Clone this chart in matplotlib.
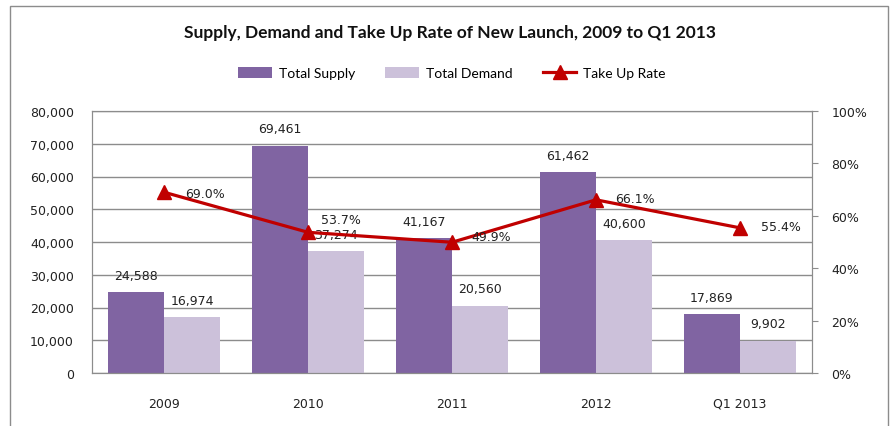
import matplotlib.pyplot as plt
from matplotlib.patches import Rectangle
from matplotlib.ticker import FuncFormatter, PercentFormatter
import numpy as np

categories = ["2009", "2010", "2011", "2012", "Q1 2013"]
total_supply = [24588, 69461, 41167, 61462, 17869]
total_demand = [16974, 37274, 20560, 40600, 9902]
take_up_rate = [69.0, 53.7, 49.9, 66.1, 55.4]

supply_color = "#8064A2"
demand_color = "#CCC1DA"
line_color = "#C00000"
grid_color = "#8C8C8C"

# label offsets (points) for the take up rate labels, as placed in the original
rate_offsets = [(15, -1), (9, 9), (14, 4), (14, 1), (15, 1)]

fig = plt.figure(figsize=(8.91, 4.27), dpi=100)

# outer chart frame
fig.patches.append(Rectangle((10 / 891, -0.1), 878 / 891, 1.1 - 7 / 427,
                             transform=fig.transFigure, fill=False,
                             edgecolor="#8C8C8C", linewidth=1))

ax = fig.add_axes([92 / 891, 53 / 427, 720 / 891, 262 / 427])
x = np.arange(len(categories))
w = 0.39

b1 = ax.bar(x - w / 2, total_supply, w, color=supply_color, label="Total Supply", zorder=2)
b2 = ax.bar(x + w / 2, total_demand, w, color=demand_color, label="Total Demand", zorder=2)

for bars in (b1, b2):
    for rect in bars:
        h = rect.get_height()
        ax.annotate(f"{h:,.0f}", (rect.get_x() + rect.get_width() / 2, h),
                    xytext=(0, 12), textcoords="offset points",
                    ha="center", va="center", fontsize=9, color="#222222")

ax.set_xlim(-0.5, len(categories) - 0.5)
ax.set_ylim(0, 80000)
ax.set_yticks(np.arange(0, 80001, 10000))
ax.yaxis.set_major_formatter(FuncFormatter(lambda v, p: f"{v:,.0f}"))
ax.set_xticks(x)
ax.set_xticklabels(categories)
ax.tick_params(axis="y", length=0, pad=13, labelsize=9, labelcolor="#222222")
ax.tick_params(axis="x", length=0, pad=17, labelsize=9, labelcolor="#222222")
ax.yaxis.grid(True, color=grid_color, linewidth=1, zorder=0)
ax.set_axisbelow(True)
for s in ("left", "bottom", "right", "top"):
    ax.spines[s].set_color(grid_color)

ax2 = ax.twinx()
ln, = ax2.plot(x, np.array(take_up_rate) / 100, color=line_color, linewidth=2.3,
               marker="^", markersize=10, label="Take Up Rate", zorder=3)
for xi, r, off in zip(x, take_up_rate, rate_offsets):
    ax2.annotate(f"{r:.1f}%", (xi, r / 100), xytext=off, textcoords="offset points",
                 ha="left", va="center", fontsize=9, color="#222222")
ax2.set_ylim(0, 1)
ax2.set_yticks(np.arange(0, 1.01, 0.2))
ax2.yaxis.set_major_formatter(PercentFormatter(1.0, decimals=0))
ax2.tick_params(axis="y", direction="out", length=4, color=grid_color, pad=10,
                labelsize=9, labelcolor="#222222")
for s in ("left", "bottom", "right", "top"):
    ax2.spines[s].set_color(grid_color)

fig.text(450 / 891, 1 - 33 / 427, "Supply, Demand and Take Up Rate of New Launch, 2009 to Q1 2013",
         ha="center", va="center", fontsize=12.5, fontweight="bold", family="Lato", color="#111111")

fig.legend([b1, b2, ln], ["Total Supply", "Total Demand", "Take Up Rate"],
           loc="center", bbox_to_anchor=(452 / 891, 1 - 74 / 427), ncol=3, frameon=False,
           prop={"family": "Lato", "size": 10}, handlelength=2.4, handleheight=0.8,
           columnspacing=2.2, handletextpad=0.5)

fig.savefig("out.png", dpi=100)
